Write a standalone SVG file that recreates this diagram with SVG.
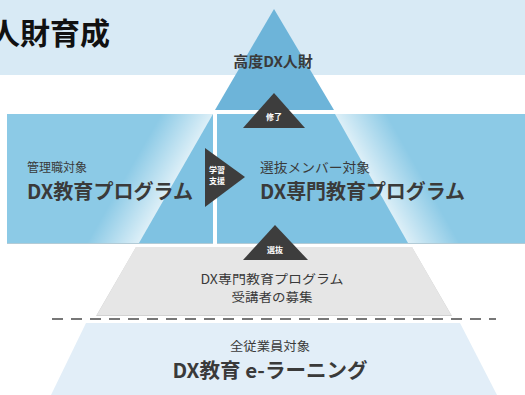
<svg xmlns="http://www.w3.org/2000/svg" width="525" height="395" viewBox="0 0 525 395">
<defs>
<style>
text{font-family:"Noto Sans CJK JP","Noto Sans",sans-serif;fill:#3a3a3a}
.b{font-weight:700}
.w{fill:#ffffff;font-weight:700;font-size:8px}
.c{text-anchor:middle}
.arrow{fill:#3d3d3d}
.band{fill:#8ccae6}
.pyr{fill:#7fc2e2}
</style>
<linearGradient id="gl" gradientUnits="userSpaceOnUse" x1="176" y1="178.5" x2="137" y2="156">
<stop offset="0" stop-color="#ffffff" stop-opacity="0.7"/>
<stop offset="1" stop-color="#ffffff" stop-opacity="0"/>
</linearGradient>
<linearGradient id="gr" gradientUnits="userSpaceOnUse" x1="371.5" y1="178.5" x2="410.7" y2="156.3">
<stop offset="0" stop-color="#ffffff" stop-opacity="0.7"/>
<stop offset="1" stop-color="#ffffff" stop-opacity="0"/>
</linearGradient>
</defs>
<rect x="0" y="0" width="525" height="395" fill="#ffffff"/>
<g id="header">
<rect x="0" y="0" width="525" height="75" fill="#d8eaf5"/>
<text x="-10" y="44" font-size="30" class="b" style="fill:#111">人財育成</text>
</g>
<g id="top">
<polygon points="274,9 334,110 215,110" fill="#6db4d9"/>
<text x="273" y="67" font-size="15" class="b c">高度DX人財</text>
</g>
<g id="left-program">
<rect x="7" y="115" width="206" height="129" fill="#b3cbd6"/>
<rect x="7" y="114" width="206" height="129" class="band"/>
<rect x="7" y="114" width="206" height="129" fill="url(#gl)"/>
<polygon points="213,114 213,243 139,243" class="pyr"/>
<text x="27" y="172" font-size="12">管理職対象</text>
<text x="27" y="199" font-size="20" class="b" textLength="166" lengthAdjust="spacingAndGlyphs">DX教育プログラム</text>
</g>
<g id="right-program">
<rect x="217" y="115" width="308" height="129" fill="#b3cbd6"/>
<rect x="217" y="114" width="308" height="129" class="band"/>
<rect x="217" y="114" width="308" height="129" fill="url(#gr)"/>
<polygon points="217,114 335,114 408,243 217,243" class="pyr"/>
<text x="260" y="171.5" font-size="13" textLength="110" lengthAdjust="spacingAndGlyphs">選抜メンバー対象</text>
<text x="260" y="199" font-size="20" class="b" textLength="205" lengthAdjust="spacingAndGlyphs">DX専門教育プログラム</text>
</g>
<g id="recruit">
<polygon points="136,247 412,247 452,316 96,316" fill="#d2d2d2"/>
<polygon points="136,247 412,247 451,315 97,315" fill="#e6e6e6"/>
<text x="272" y="284" font-size="12.5" class="c" textLength="143" lengthAdjust="spacingAndGlyphs">DX専門教育プログラム</text>
<text x="272" y="302" font-size="12.5" class="c" textLength="81" lengthAdjust="spacingAndGlyphs">受講者の募集</text>
</g>
<g id="elearning">
<polygon points="86,323 460,323 497,395 51,395" fill="#e2eef8"/>
<text x="270" y="351" font-size="12.5" class="c" textLength="80" lengthAdjust="spacingAndGlyphs">全従業員対象</text>
<text x="270" y="378" font-size="20" class="b c" textLength="195" lengthAdjust="spacingAndGlyphs">DX教育 e-ラーニング</text>
</g>
<g id="connectors">
<line x1="52" y1="319" x2="496" y2="319" stroke="#777777" stroke-width="2" stroke-dasharray="11 8"/>
<polygon points="274,93 305,128 243,128" class="arrow"/>
<text x="274" y="120" class="w c">修了</text>
<polygon points="205,148 245,177 205,207" class="arrow"/>
<text x="217" y="173" class="w c">学習</text>
<text x="217" y="184" class="w c">支援</text>
<polygon points="275,225 308,260 243,260" class="arrow"/>
<text x="275" y="253" class="w c">選抜</text>
</g>
</svg>
